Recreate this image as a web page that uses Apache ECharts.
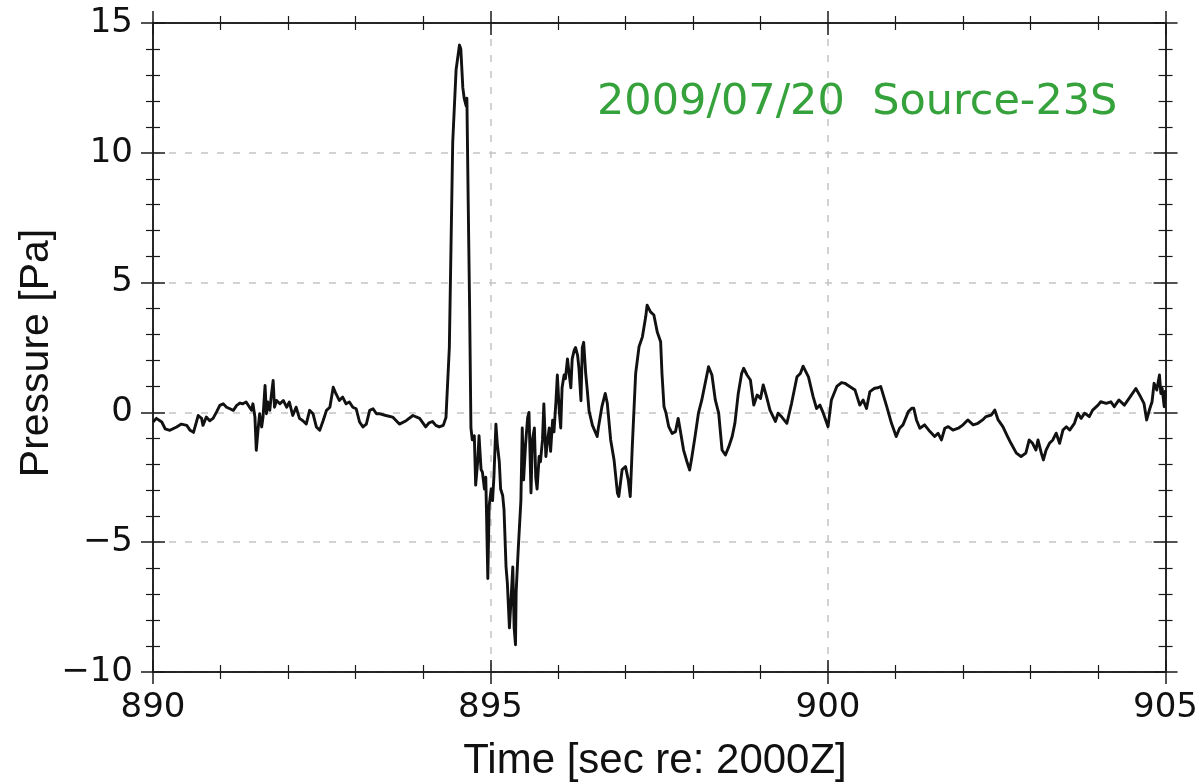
<!DOCTYPE html>
<html>
<head>
<meta charset="utf-8">
<script src="https://cdn.jsdelivr.net/npm/echarts@6/dist/echarts.min.js"></script>
<style>
  html, body { margin: 0; padding: 0; background: #fff; }
  #chart { width: 1201px; height: 783px; }
</style>
</head>
<body>
<div id="chart"></div>
<script>
// Infrasound pressure record, time in seconds re: 2000Z
const times = [
  890.00, 890.05, 890.13, 890.18, 890.25, 890.35, 890.42, 890.50, 890.55, 890.60,
  890.62, 890.67, 890.72, 890.74, 890.79, 890.84, 890.89, 890.94, 890.99, 891.04,
  891.09, 891.14, 891.19, 891.24, 891.29, 891.33, 891.38, 891.43, 891.46, 891.48,
  891.51, 891.53, 891.56, 891.58, 891.61, 891.63, 891.66, 891.68, 891.70, 891.73,
  891.75, 891.78, 891.80, 891.83, 891.88, 891.93, 891.98, 892.02, 892.07, 892.12,
  892.17, 892.22, 892.27, 892.32, 892.37, 892.42, 892.47, 892.52, 892.57, 892.62,
  892.67, 892.71, 892.76, 892.81, 892.86, 892.91, 892.96, 893.01, 893.06, 893.11,
  893.16, 893.21, 893.26, 893.31, 893.35, 893.45, 893.55, 893.65, 893.75, 893.85,
  893.95, 894.04, 894.09, 894.14, 894.19, 894.24, 894.30, 894.34, 894.39, 894.44,
  894.49, 894.54, 894.56, 894.59, 894.61, 894.64, 894.65, 894.67, 894.69, 894.71,
  894.73, 894.76, 894.78, 894.81, 894.83, 894.86, 894.88, 894.91, 894.93, 894.96,
  894.98, 895.01, 895.03, 895.05, 895.08, 895.10, 895.13, 895.15, 895.18, 895.20,
  895.23, 895.25, 895.28, 895.30, 895.33, 895.35, 895.37, 895.38, 895.41, 895.45,
  895.47, 895.49, 895.52, 895.55, 895.57, 895.60, 895.62, 895.65, 895.67, 895.69,
  895.72, 895.74, 895.77, 895.79, 895.82, 895.84, 895.87, 895.89, 895.92, 895.94,
  895.97, 895.99, 896.02, 896.04, 896.06, 896.09, 896.11, 896.14, 896.16, 896.19,
  896.21, 896.24, 896.26, 896.29, 896.31, 896.34, 896.36, 896.38, 896.41, 896.43,
  896.46, 896.51, 896.58, 896.60, 896.65, 896.70, 896.73, 896.78, 896.83, 896.88,
  896.90, 896.95, 897.00, 897.04, 897.07, 897.10, 897.15, 897.20, 897.25, 897.30,
  897.32, 897.37, 897.42, 897.47, 897.52, 897.54, 897.57, 897.60, 897.64, 897.69,
  897.74, 897.78, 897.81, 897.86, 897.91, 897.95, 897.98, 898.03, 898.08, 898.13,
  898.18, 898.23, 898.28, 898.33, 898.38, 898.43, 898.48, 898.53, 898.58, 898.62,
  898.67, 898.72, 898.75, 898.80, 898.85, 898.90, 898.95, 899.00, 899.04, 899.09,
  899.14, 899.22, 899.26, 899.31, 899.39, 899.46, 899.54, 899.59, 899.63, 899.71,
  899.78, 899.83, 899.88, 899.93, 900.00, 900.05, 900.13, 900.20, 900.25, 900.32,
  900.40, 900.47, 900.52, 900.57, 900.62, 900.69, 900.74, 900.78, 900.84, 900.87,
  900.94, 901.01, 901.06, 901.11, 901.19, 901.24, 901.27, 901.31, 901.36, 901.43,
  901.51, 901.58, 901.63, 901.68, 901.73, 901.78, 901.85, 901.93, 902.00, 902.07,
  902.15, 902.22, 902.29, 902.34, 902.42, 902.47, 902.52, 902.59, 902.66, 902.71,
  902.79, 902.86, 902.93, 902.98, 903.03, 903.08, 903.11, 903.16, 903.19, 903.23,
  903.28, 903.33, 903.38, 903.43, 903.48, 903.53, 903.58, 903.65, 903.70, 903.75,
  903.80, 903.87, 903.92, 904.00, 904.04, 904.12, 904.19, 904.24, 904.31, 904.39,
  904.46, 904.56, 904.63, 904.68, 904.72, 904.76, 904.80, 904.83, 904.87, 904.91,
  904.93, 904.95, 904.98, 905.00
];

const pressure = [
  -0.37, -0.23, -0.37, -0.63, -0.69, -0.56, -0.45, -0.50, -0.69, -0.77,
  -0.82, -0.12, -0.23, -0.50, -0.18, -0.32, -0.23, 0.01, 0.27, 0.33,
  0.20, 0.14, 0.08, 0.27, 0.36, 0.33, 0.40, 0.20, 0.08, 0.33,
  -0.18, -1.46, -0.56, -0.05, -0.56, -0.18, 1.04, -0.05, 0.40, 0.08,
  0.59, 1.23, 0.20, 0.46, 0.33, 0.46, 0.20, 0.40, -0.12, 0.20,
  -0.23, -0.32, -0.45, 0.08, -0.05, -0.56, -0.69, -0.32, 0.08, 0.20,
  0.97, 0.72, 0.46, 0.59, 0.33, 0.40, 0.20, 0.14, -0.37, -0.56,
  -0.45, 0.08, 0.14, -0.05, -0.05, -0.12, -0.18, -0.45, -0.32, -0.12,
  -0.23, -0.56, -0.40, -0.35, -0.50, -0.56, -0.50, -0.20, 2.5, 10.4,
  13.2, 14.15, 14.0, 12.5, 12.1, 11.8, 12.1, 8.0, 4.1, -0.6,
  -1.06, -0.9, -2.8, -1.9, -0.9, -2.2, -2.3, -2.95, -2.5, -6.4,
  -3.6, -2.95, -3.4, -2.5, -0.45, -1.2, -1.9, -2.95, -3.2, -3.75,
  -5.95, -6.6, -8.3, -7.4, -5.95, -8.3, -8.95, -6.9, -5.3, -3.4,
  -0.6, -2.6, -1.2, -0.2, 0.0, -3.1, -1.06, -0.6, -2.5, -2.95,
  -1.7, -1.9, -1.06, 0.33, -1.7, -1.2, -0.6, -1.5, -0.3, -0.75,
  0.45, 1.44, 0.0, -0.6, 0.95, 1.44, 1.3, 2.06, 1.6, 0.95,
  2.06, 2.4, 2.5, 2.2, 1.7, 0.45, 2.5, 2.7, 1.5, 0.95,
  0.05, -0.5, -0.93, -0.55, 0.22, 0.73, 0.35, -1.06, -1.83, -3.1,
  -3.24, -2.2, -2.09, -2.6, -3.24, -1.32, 1.5, 2.53, 2.91, 3.7,
  4.13, 3.87, 3.75, 3.1, 2.72, 1.5, 0.22, -0.03, -0.55, -0.81,
  -0.74, -0.23, -0.68, -1.45, -1.9, -2.22, -1.77, -0.93, -0.03, 0.48,
  1.12, 1.76, 1.44, 0.48, -0.03, -1.45, -1.64, -1.32, -0.93, -0.42,
  0.73, 1.5, 1.7, 1.44, 1.25, 0.28, 0.67, 0.54, 1.06, 0.6,
  0.09, -0.35, -0.03, -0.16, -0.42, 0.35, 1.37, 1.5, 1.78, 1.37,
  0.6, 0.15, 0.28, -0.03, -0.55, 0.48, 1.0, 1.15, 1.12, 1.0,
  0.86, 0.28, 0.48, 0.15, 0.8, 0.93, 0.95, 1.0, 0.48, 0.22,
  -0.42, -0.93, -0.61, -0.48, 0.03, 0.16, 0.16, -0.29, -0.61, -0.48,
  -0.74, -0.93, -0.8, -1.06, -0.61, -0.55, -0.68, -0.61, -0.48, -0.29,
  -0.48, -0.42, -0.29, -0.16, -0.1, 0.09, -0.29, -0.55, -0.93, -1.19,
  -1.57, -1.7, -1.57, -1.06, -1.19, -1.45, -1.06, -1.57, -1.83, -1.45,
  -1.19, -1.06, -0.8, -1.19, -0.68, -0.55, -0.68, -0.42, -0.03, -0.23,
  -0.03, -0.16, 0.09, 0.28, 0.41, 0.35, 0.41, 0.22, 0.48, 0.28,
  0.54, 0.92, 0.6, 0.35, -0.29, 0.09, 0.41, 1.12, 0.86, 1.44,
  0.73, 0.92, 0.22, 0.86
];

const xTicks = { min: 890, max: 905, interval: 5 };
const yTicks = { min: -10, max: 15, interval: 5 };
const eventLabel = '2009/07/20  Source-23S';
const xTitle = 'Time [sec re: 2000Z]';
const yTitle = 'Pressure [Pa]';

const axisColor = '#1a1a1a';
const gridLine = { show: true, lineStyle: { color: '#c4c4c4', width: 1.5, type: [7, 9] } };

// One axis per side/direction so ticks cross the frame line
function makeAxis(range, position, inside, primary) {
  return {
    type: 'value',
    position: position,
    min: range.min,
    max: range.max,
    interval: range.interval,
    axisLine: { show: true, onZero: false, lineStyle: { color: axisColor, width: 1.5 } },
    axisTick: { show: true, inside: inside, length: 12, lineStyle: { color: axisColor, width: 1.5 } },
    minorTick: { show: true, splitNumber: 5, length: 7, lineStyle: { color: axisColor, width: 1.2 } },
    axisLabel: primary ? {
      show: true,
      fontFamily: 'DejaVu Sans',
      fontSize: 34,
      color: '#111',
      margin: position === 'left' ? 20 : 19,
      formatter: v => String(v).replace('-', '\u2212')
    } : { show: false },
    splitLine: primary ? gridLine : { show: false },
    minorSplitLine: { show: false }
  };
}

const chart = echarts.init(document.getElementById('chart'), null, { renderer: 'canvas' });

chart.setOption({
  animation: false,
  backgroundColor: '#ffffff',
  grid: { left: 153, top: 23, width: 1015, height: 649, containLabel: false },
  xAxis: [
    makeAxis(xTicks, 'bottom', false, true),
    makeAxis(xTicks, 'bottom', true, false),
    makeAxis(xTicks, 'top', false, false),
    makeAxis(xTicks, 'top', true, false)
  ],
  yAxis: [
    makeAxis(yTicks, 'left', false, true),
    makeAxis(yTicks, 'left', true, false),
    makeAxis(yTicks, 'right', false, false),
    makeAxis(yTicks, 'right', true, false)
  ],
  series: [{
    type: 'line',
    xAxisIndex: 0,
    yAxisIndex: 0,
    data: times.map((t, i) => [t, pressure[i]]),
    showSymbol: false,
    symbol: 'none',
    lineStyle: { color: '#111', width: 2.9, join: 'round' },
    z: 5
  }],
  graphic: [
    {
      type: 'text',
      x: 597, y: 103,
      style: {
        text: eventLabel,
        fontFamily: 'DejaVu Sans',
        fontSize: 43,
        fill: '#35a23b',
        align: 'left',
        verticalAlign: 'middle'
      }
    },
    {
      type: 'text',
      x: 655, y: 761,
      style: {
        text: xTitle,
        fontFamily: 'Liberation Sans',
        fontSize: 42,
        fill: '#111',
        align: 'center',
        verticalAlign: 'middle'
      }
    },
    {
      type: 'text',
      x: 37, y: 353,
      rotation: Math.PI / 2,
      style: {
        text: yTitle,
        fontFamily: 'Liberation Sans',
        fontSize: 41,
        fill: '#111',
        align: 'center',
        verticalAlign: 'middle'
      }
    }
  ]
});
</script>
</body>
</html>
